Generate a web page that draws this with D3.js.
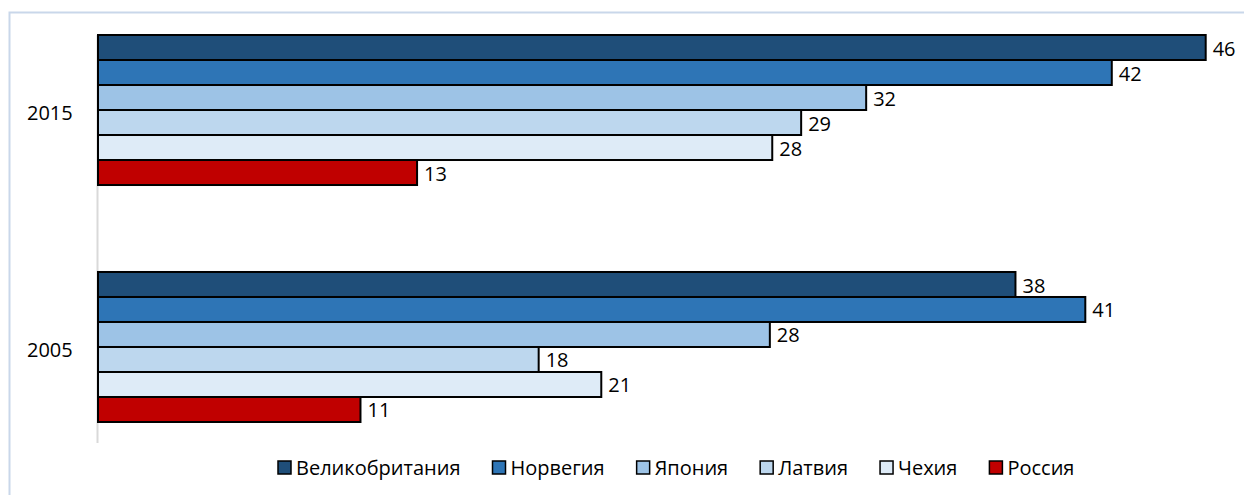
<!DOCTYPE html>
<html>
<head>
<meta charset="utf-8">
<script src="https://cdn.jsdelivr.net/npm/d3@7"></script>
<style>
  body { margin: 0; background: #fff; }
  text { font-family: "Open Sans", sans-serif; fill: #000; }
</style>
</head>
<body>
<svg id="chart" width="1244" height="495"></svg>
<script>
// data
var years = ["2015", "2005"];
var countries = ["Великобритания", "Норвегия", "Япония", "Латвия", "Чехия", "Россия"];
var colors = ["#1f4e79", "#2e75b6", "#9dc3e6", "#bdd7ee", "#deebf7", "#c00000"];
var values2015 = [46, 42.1, 31.9, 29.2, 28.0, 13.25];
var values2005 = [38.1, 41.0, 27.9, 18.3, 20.9, 10.9];

var valuesByYear = { "2015": values2015, "2005": values2005 };
var fmt = d3.format(".0f");

var svg = d3.select("#chart");

// outer frame (open at right and bottom like the source)
svg.append("path")
  .attr("d", "M9.5,495 L9.5,12.5 L1244,12.5")
  .attr("fill", "none")
  .attr("stroke", "#c9d7ea")
  .attr("stroke-width", 2);

var x = d3.scaleLinear().domain([0, 46]).range([98, 1205.7]);

var y0 = d3.scaleBand().domain(years).range([35, 422]).paddingInner(0.367).paddingOuter(0);
var y1 = d3.scaleBand().domain(countries).range([0, y0.bandwidth()]);

// category axis line
svg.append("line")
  .attr("x1", 97.5).attr("x2", 97.5)
  .attr("y1", 35).attr("y2", 443)
  .attr("stroke", "#d9d9d9")
  .attr("stroke-width", 2);

var groups = svg.selectAll("g.year")
  .data(years)
  .enter().append("g")
  .attr("class", "year")
  .attr("transform", function(d){ return "translate(0," + y0(d) + ")"; });

groups.selectAll("rect")
  .data(function(yr){
    return countries.map(function(c, i){ return { c: c, v: valuesByYear[yr][i], i: i }; });
  })
  .enter().append("rect")
  .attr("x", x(0))
  .attr("y", function(d){ return y1(d.c); })
  .attr("width", function(d){ return x(d.v) - x(0); })
  .attr("height", y1.bandwidth())
  .attr("fill", function(d){ return colors[d.i]; })
  .attr("stroke", "#000")
  .attr("stroke-width", 2);

groups.selectAll("text.val")
  .data(function(yr){
    return countries.map(function(c, i){ return { c: c, v: valuesByYear[yr][i] }; });
  })
  .enter().append("text")
  .attr("class", "val")
  .attr("x", function(d){ return x(d.v) + 7; })
  .attr("y", function(d){ return y1(d.c) + y1.bandwidth() / 2 + 1; })
  .attr("dy", "0.35em")
  .style("font-size", "20px")
  .text(function(d){ return fmt(d.v); });

// year labels
svg.selectAll("text.yr")
  .data(years)
  .enter().append("text")
  .attr("class", "yr")
  .attr("x", 27)
  .attr("y", function(d){ return y0(d) + y0.bandwidth() / 2 + 3; })
  .attr("dy", "0.35em")
  .style("font-size", "20px")
  .text(function(d){ return d; });

// legend
var legend = svg.append("g").attr("transform", "translate(0,468)");
var lx = 278;
countries.forEach(function(c, i){
  var item = legend.append("g").attr("transform", "translate(" + lx + ",0)");
  item.append("rect")
    .attr("x", 0).attr("y", -7)
    .attr("width", 13).attr("height", 13)
    .attr("fill", colors[i])
    .attr("stroke", "#000")
    .attr("stroke-width", 1.5);
  var t = item.append("text")
    .attr("x", 18).attr("y", 0)
    .attr("dy", "0.35em")
    .style("font-size", "20px")
    .text(c);
  lx += 18 + t.node().getComputedTextLength() + 32;
});
</script>
</body>
</html>
